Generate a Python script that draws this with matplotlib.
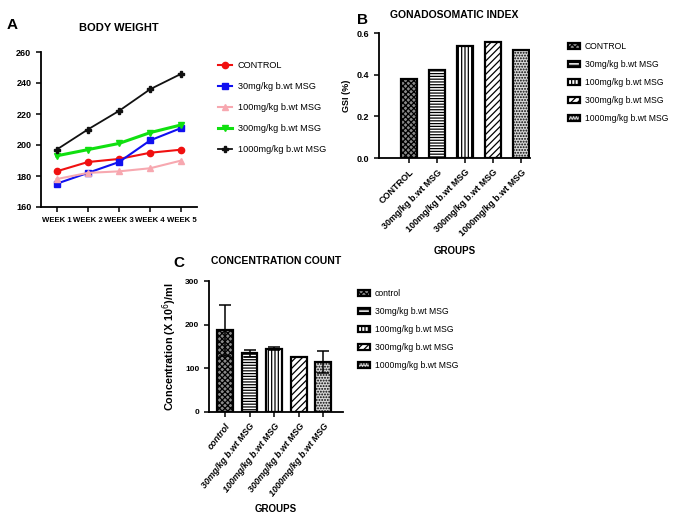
import numpy as np
import matplotlib
matplotlib.use("Agg")
import matplotlib.pyplot as plt

plt.rcParams['font.family'] = ['Liberation Sans', 'DejaVu Sans']
plt.rcParams['hatch.linewidth'] = 0.9

W, H = 673, 518

# --- Panel A: body weight ---
weeks = ["WEEK 1", "WEEK 2", "WEEK 3", "WEEK 4", "WEEK 5"]
bw_control = [183, 189, 191, 195, 197]
bw_30 = [175, 182, 189, 203, 211]
bw_100 = [178, 182, 183, 185, 190]
bw_300 = [193, 197, 201, 208, 213]
bw_1000 = [197, 210, 222, 236, 246]

# --- Panel B: GSI ---
gsi_groups = ["CONTROL", "30mg/kg b.wt MSG", "100mg/kg b.wt MSG",
              "300mg/kg b.wt MSG", "1000mg/kg b.wt MSG"]
gsi_values = [0.378, 0.422, 0.540, 0.558, 0.520]

# --- Panel C: concentration count ---
conc_groups = ["control", "30mg/kg b.wt MSG", "100mg/kg b.wt MSG",
               "300mg/kg b.wt MSG", "1000mg/kg b.wt MSG"]
conc_values = [187, 135, 145, 126, 115]
conc_err = [59, 8, 3, 1, 25]

fig = plt.figure(figsize=(W / 100, H / 100), dpi=100)


def px_axes(left, top, right, bottom):
    return fig.add_axes([left / W, 1 - bottom / H, (right - left) / W, (bottom - top) / H])


def style(ax, size=6.5):
    for s in ["top", "right"]:
        ax.spines[s].set_visible(False)
    for s in ["left", "bottom"]:
        ax.spines[s].set_linewidth(1.3)
    ax.tick_params(width=1.1, length=3.5, labelsize=size)
    for t in ax.get_xticklabels() + ax.get_yticklabels():
        t.set_fontweight("bold")


# ===== A =====
axA = px_axes(41, 52, 197, 207)
x = np.arange(len(weeks))
series = [
    (bw_control, "CONTROL", "#f01010", "o", 1.5),
    (bw_30, "30mg/kg b.wt MSG", "#1010f0", "s", 1.5),
    (bw_100, "100mg/kg b.wt MSG", "#f7a8b0", "^", 1.5),
    (bw_300, "300mg/kg b.wt MSG", "#10e010", "v", 2.2),
    (bw_1000, "1000mg/kg b.wt MSG", "#111111", "P", 1.3),
]
hA = []
for vals, lab, col, mk, lw in series:
    h, = axA.plot(x, vals, color=col, marker=mk, markersize=4.5, lw=lw, label=lab)
    hA.append(h)
axA.set_xlim(-0.5, 4.5)
axA.set_ylim(160, 260)
axA.set_yticks([160, 180, 200, 220, 240, 260])
axA.set_xticks(x)
axA.set_xticklabels(weeks)
style(axA, 6.5)
for t in axA.get_xticklabels():
    t.set_fontsize(5.6)
axA.set_title("BODY WEIGHT", fontsize=8, fontweight="bold", pad=15)
fig.text(7 / W, 1 - 25 / H, "A", fontsize=11, fontweight="bold", va="center")
fig.legend(handles=hA, loc="upper left", bbox_to_anchor=(210 / W, 1 - 53 / H),
           frameon=False, fontsize=6.6, labelspacing=1.3, handlelength=1.5,
           handletextpad=0.6)

# ===== B =====
hatches = ["xxxxxx", "------", "|||||", "/////", "......"]
faces = ["#8a8a8a", "white", "white", "white", "#d8d8d8"]

axB = px_axes(379, 33, 530, 158)
xb = np.arange(len(gsi_groups))
barsB = axB.bar(xb, gsi_values, width=0.6, color=faces, edgecolor="black",
                linewidth=1.6, hatch=hatches)
axB.set_xlim(-1.07, 4.32)
axB.set_ylim(0, 0.6)
axB.set_yticks([0.0, 0.2, 0.4, 0.6])
axB.set_xticks(xb)
axB.set_xticklabels(gsi_groups, rotation=45, ha="right", rotation_mode="anchor")
style(axB)
axB.set_ylabel("GSI (%)", fontsize=6.5, fontweight="bold")
axB.set_xlabel("GROUPS", fontsize=7, fontweight="bold", labelpad=6)
axB.set_title("GONADOSOMATIC INDEX", fontsize=7.5, fontweight="bold", pad=11)
fig.text(357 / W, 1 - 20 / H, "B", fontsize=11, fontweight="bold", va="center")
fig.legend(handles=list(barsB), labels=gsi_groups, loc="upper left",
           bbox_to_anchor=(560 / W, 1 - 34 / H), frameon=False, fontsize=6.2,
           labelspacing=1.05, handlelength=1.4, handleheight=0.7, handletextpad=0.6)

# ===== C =====
axC = px_axes(209, 281, 343, 412)
xc = np.arange(len(conc_groups))
barsC = axC.bar(xc, conc_values, width=0.64, color=faces, edgecolor="black",
                linewidth=1.6, hatch=hatches, yerr=conc_err, capsize=4,
                error_kw=dict(elinewidth=1.1, capthick=1.1))
axC.set_xlim(-0.65, 4.8)
axC.set_ylim(0, 300)
axC.set_yticks([0, 100, 200, 300])
axC.set_xticks(xc)
axC.set_xticklabels(conc_groups, rotation=52, ha="right", rotation_mode="anchor")
style(axC, 6)
for t in axC.get_xticklabels():
    t.set_fontstyle("italic")
    t.set_fontsize(6.5)
axC.set_ylabel("Concentration (X 10$^{6}$)/ml", fontsize=7.8, fontweight="bold")
axC.set_xlabel("GROUPS", fontsize=7, fontweight="bold", labelpad=4)
axC.set_title("CONCENTRATION COUNT", fontsize=7.5, fontweight="bold", pad=12)
fig.text(173 / W, 1 - 263 / H, "C", fontsize=11, fontweight="bold", va="center")
fig.legend(handles=list(barsC), labels=conc_groups, loc="upper left",
           bbox_to_anchor=(350 / W, 1 - 281 / H), frameon=False, fontsize=6.2,
           labelspacing=1.05, handlelength=1.4, handleheight=0.7, handletextpad=0.6)

fig.savefig("out.png", dpi=100)
